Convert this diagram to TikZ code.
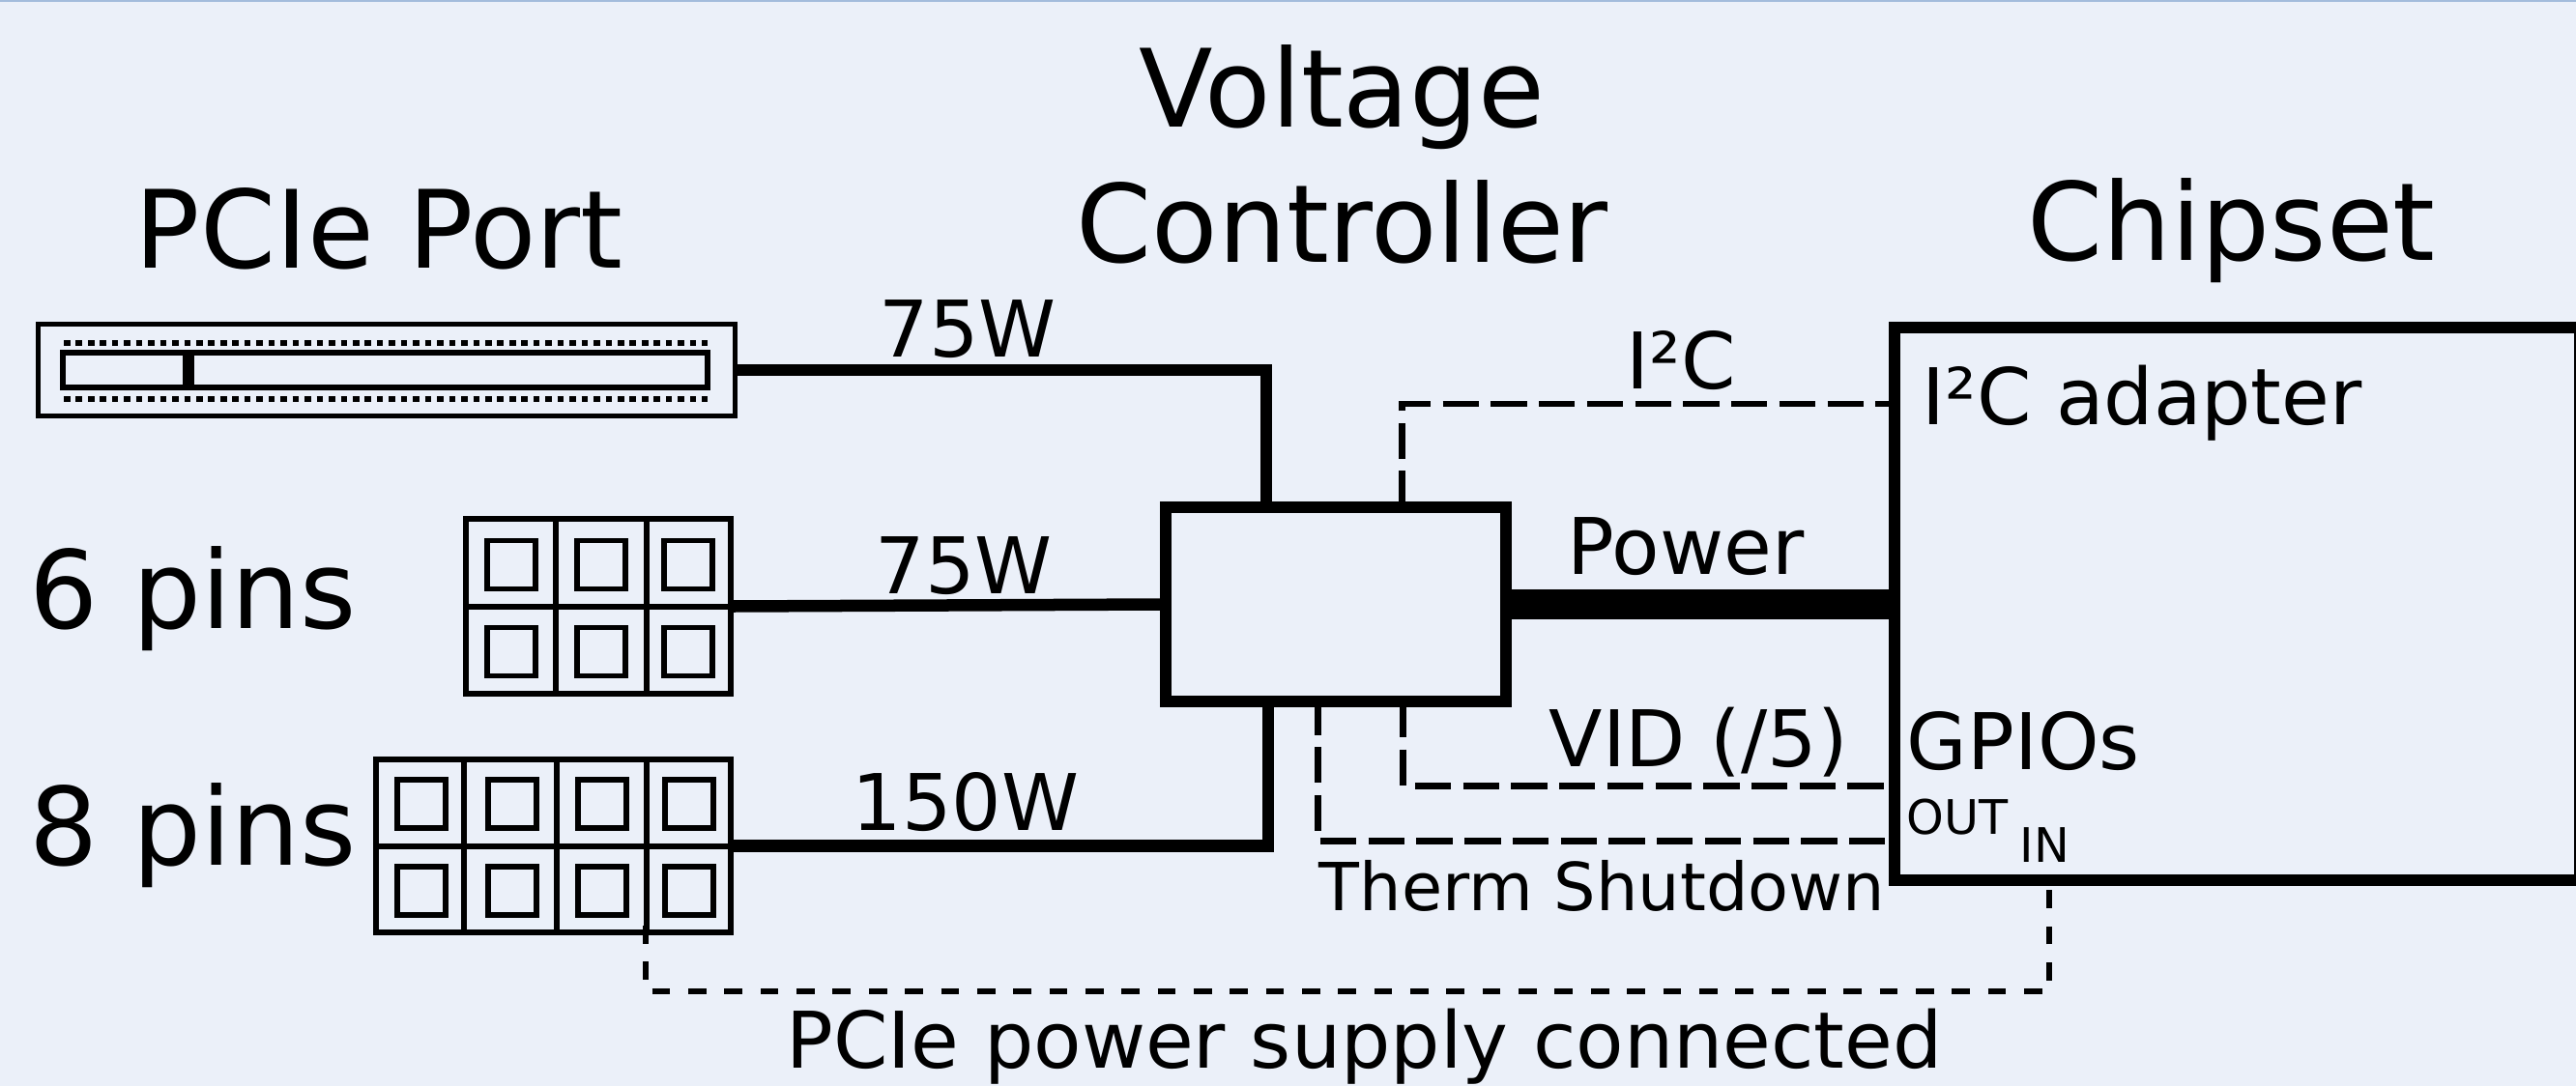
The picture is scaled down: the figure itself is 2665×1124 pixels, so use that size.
\documentclass[tikz,border=0pt]{standalone}
\usepackage{fontspec}
\setmainfont{DejaVu Sans}
\definecolor{pagebg}{HTML}{EBF0F9}
\definecolor{pagetop}{HTML}{A3BCDC}
\begin{document}
\begin{tikzpicture}[
    x=0.01cm, y=-0.01cm,
    box/.style={draw, line width=0.05cm, inner sep=0pt},
    pinbox/.style={draw, line width=0.06cm, inner sep=0pt},
    hubbox/.style={draw, line width=0.12cm, inner sep=0pt},
    pin/.style={draw, line width=0.057cm, inner sep=0pt, minimum width=0.5cm, minimum height=0.5cm},
    wire/.style={line width=0.125cm},
    grid/.style={line width=0.06cm},
    sig/.style={line width=0.065cm, dash pattern=on 0.373cm off 0.124cm},
    link/.style={line width=0.065cm, dash pattern=on 0.187cm off 0.1863cm},
    contacts/.style={line width=0.067cm, dash pattern=on 0.066cm off 0.0585cm},
    big/.style={anchor=base west, inner sep=0pt, font=\fontsize{31.8}{36}\selectfont},
    mid/.style={anchor=base west, inner sep=0pt, font=\fontsize{23}{27}\selectfont},
    small/.style={anchor=base west, inner sep=0pt, font=\fontsize{19.5}{23}\selectfont},
    tiny/.style={anchor=base west, inner sep=0pt, font=\fontsize{14}{16}\selectfont}
]

\fill[pagebg] (0,0) rectangle (2665,1124);
\fill[pagetop] (0,0) rectangle (2665,2);
\useasboundingbox (0,0) rectangle (2665,1124);

% pcie slot
\node (port) [box, minimum width=7.21cm, minimum height=0.95cm] at (400,383) {};
\node (slot) [box, line width=0.06cm, minimum width=6.67cm, minimum height=0.35cm] at (398.5,383) {};
\node (key) [fill, inner sep=0pt, minimum width=0.12cm, minimum height=0.35cm] at (195,383) {};
\coordinate (dotsa) at (66,355);
\coordinate (dotsb) at (732,355);
\coordinate (dotsc) at (66,413);
\coordinate (dotsd) at (732,413);
\draw[contacts] (dotsa) -- (dotsb);
\draw[contacts] (dotsc) -- (dotsd);

% 6 pins
\node (six) [pinbox, minimum width=2.74cm, minimum height=1.8cm] at (619,627.5) {};
\coordinate (sixa) at (575,538);
\coordinate (sixb) at (669,538);
\coordinate (sixc) at (575,718);
\coordinate (sixd) at (669,718);
\draw[grid] (sixa) -- (sixc);
\draw[grid] (sixb) -- (sixd);
\draw[grid] (six.west) -- (six.east);
\foreach \px in {529,622,712} {
    \foreach \py in {584.5,674.5} {
        \node[pin] at (\px,\py) {};
    }
}

% 8 pins
\node (eight) [pinbox, minimum width=3.67cm, minimum height=1.79cm] at (572.5,875.5) {};
\coordinate (eighta) at (480,786);
\coordinate (eightb) at (576,786);
\coordinate (eightc) at (669,786);
\coordinate (eightd) at (480,965);
\coordinate (eighte) at (576,965);
\coordinate (eightf) at (669,965);
\draw[grid] (eighta) -- (eightd);
\draw[grid] (eightb) -- (eighte);
\draw[grid] (eightc) -- (eightf);
\draw[grid] (eight.west) -- (eight.east);
\foreach \px in {436,530,623,713} {
    \foreach \py in {832,922} {
        \node[pin] at (\px,\py) {};
    }
}

% controller and chipset
\node (vrm) [hubbox, minimum width=3.52cm, minimum height=2.01cm] at (1382,625.5) {};
\node (chipset) [hubbox, minimum width=7.09cm, minimum height=5.72cm] at (2314.5,625) {};

\coordinate (vrmtopa) at (1310,525);
\coordinate (vrmtopb) at (1450.3,524.8);
\coordinate (vrmbota) at (1312,726);
\coordinate (vrmbotb) at (1363.7,723.4);
\coordinate (vrmbotc) at (1451.7,726);
\coordinate (chipa) at (1954,418);
\coordinate (chipb) at (1954,813.3);
\coordinate (chipc) at (1954,870.3);
\coordinate (chipd) at (2120,916);
\coordinate (eightpin) at (668,958);
\coordinate (bendb) at (668,1026);

\draw[wire] (port.east) -| (vrmtopa);
\draw[wire] (six.east) -- (vrm.west);
\draw[wire] (eight.east) -| (vrmbota);
\draw[line width=0.31cm] (vrm.east) -- (vrm.east -| chipset.west);
\draw[sig] (vrmtopb) |- (chipa);
\draw[sig] (vrmbotc) |- (chipb);
\draw[sig] (vrmbotb) |- (chipc);
\draw[link] (eightpin) -- (bendb) -| (chipd);

% labels
\node (lblvolt) [big] at (1178,131) {Voltage};
\node (lblctrl) [big] at (1113,271) {Controller};
\node (lblport) [big] at (139,277) {PCIe Port};
\node (lblchip) [big] at (2097,269) {Chipset};
\node (lblsix) [big] at (30,650) {6 pins};
\node (lbleight) [big] at (30,895) {8 pins};
\node (lblporta) [mid] at (909,369) {75W};
\node (lblsixa) [mid] at (905,614) {75W};
\node (lbleighta) [mid] at (881,859) {150W};
\node (lblic) [mid] at (1682,402) {I²C};
\node (lbladapter) [mid] at (1988,439) {I²C adapter};
\node (lblpower) [mid] at (1621,594) {Power};
\node (lblvid) [mid] at (1602,793) {VID (/5)};
\node (lblgpio) [mid] at (1972,796) {GPIOs};
\node (lblout) [tiny] at (1972,863) {OUT};
\node (lblin) [tiny] at (2089,892) {IN};
\node (lbltherm) [small] at (1364,942) {Therm Shutdown};
\node (lblsupply) [mid] at (813,1105) {PCIe power supply connected};

\end{tikzpicture}
\end{document}
